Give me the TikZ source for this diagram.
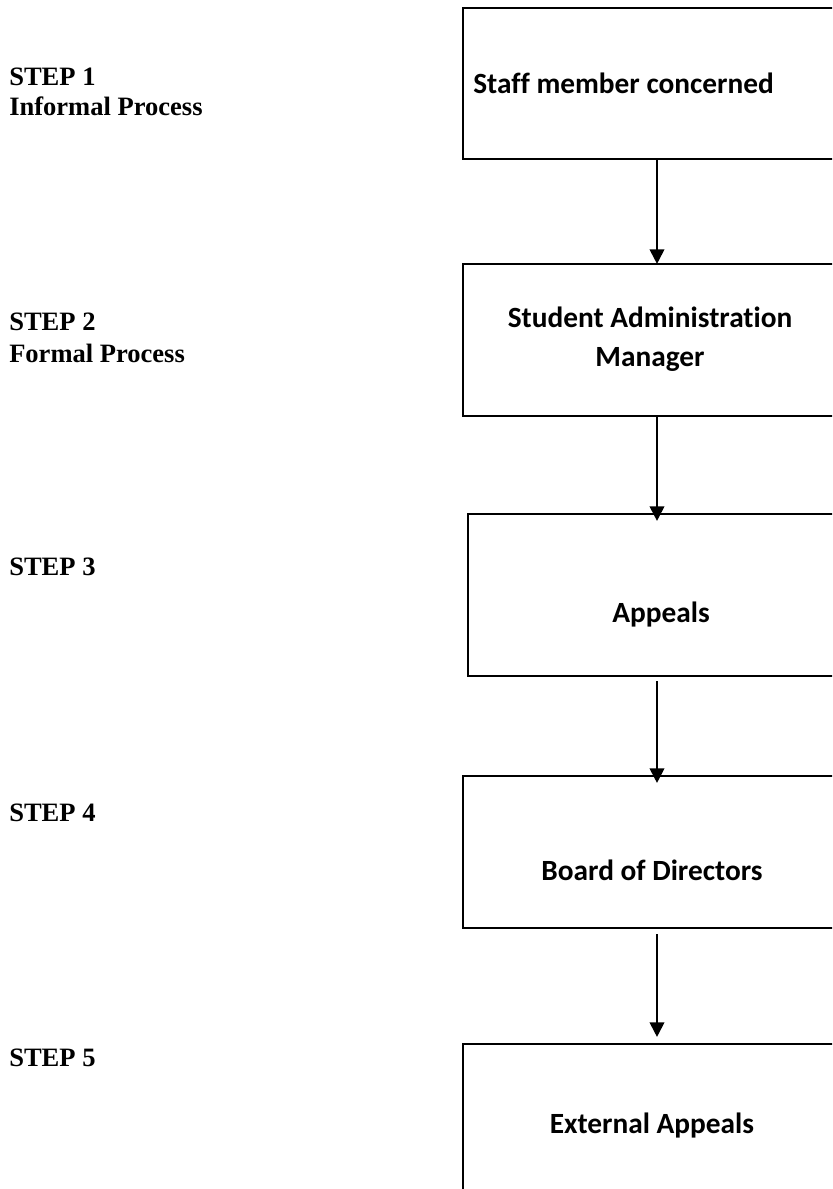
\documentclass[tikz,border=0pt]{standalone}
\usepackage{fontspec}
\setmainfont{Liberation Serif}
\newfontfamily\boxfont[Ligatures=NoCommon]{Carlito}
\usetikzlibrary{arrows.meta,calc,fit}
\begin{document}
\begin{tikzpicture}[x=0.75pt,y=-0.75pt,
  stepbox/.style={draw=black,line width=1.6pt,inner sep=0pt,fit={#1}},
  steplabel/.style={anchor=base west,inner sep=0pt,font=\bfseries\fontsize{19.9}{24}\selectfont},
  boxtext/.style={anchor=base,inner sep=0pt,align=center,font=\boxfont\bfseries\fontsize{22}{29.25}\selectfont},
  arr/.style={line width=1.5pt,-{Triangle[length=11pt,width=11pt]}}]
\useasboundingbox (0,0) rectangle (832,1189);
\clip (0,0) rectangle (832,1189);
% boxes (they run past the right edge of the page)
\node[stepbox={(463,8) (870,159)}] (b1) {};
\node[stepbox={(463,264) (870,416)}] (b2) {};
\node[stepbox={(468,514) (870,676)}] (b3) {};
\node[stepbox={(463,776) (870,928)}] (b4) {};
\node[stepbox={(463,1044) (870,1200)}] (b5) {};
% box texts
\node[boxtext,anchor=base west] (t1) at (473,93) {Staff member concerned};
\node[boxtext] (t2) at (650,366) {Student Administration\\Manager};
\node[boxtext] (t3) at (661,622) {Appeals};
\node[boxtext] (t4) at (652,880) {Board of Directors};
\node[boxtext] (t5) at (652,1133) {External Appeals};
% step labels
\node[steplabel] (s1) at (9,85) {STEP 1};
\node[steplabel] (s1b) at (9,115) {Informal Process};
\node[steplabel] (s2) at (9,330) {STEP 2};
\node[steplabel] (s2b) at (9,362) {Formal Process};
\node[steplabel] (s3) at (9,575) {STEP 3};
\node[steplabel] (s4) at (9,821) {STEP 4};
\node[steplabel] (s5) at (9,1066) {STEP 5};
% arrows
\coordinate (ax) at (657,0);
\draw[arr] (b1.south -| ax) -- ($(b2.north -| ax)+(0,1)$);
\draw[arr] (b2.south -| ax) -- ($(b3.north -| ax)+(0,8)$);
\draw[arr] ($(b3.south -| ax)+(0,4)$) -- ($(b4.north -| ax)+(0,8)$);
\draw[arr] ($(b4.south -| ax)+(0,5)$) -- ($(b5.north -| ax)+(0,-6)$);
\end{tikzpicture}
\end{document}
